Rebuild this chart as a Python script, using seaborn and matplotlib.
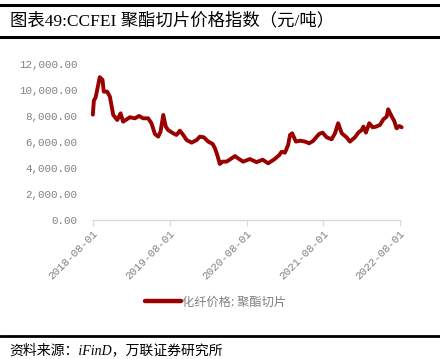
import matplotlib
matplotlib.use("Agg")
import matplotlib.pyplot as plt
from matplotlib.lines import Line2D
import seaborn as sns
import pandas as pd

sns.set_theme(style="white")
plt.rcParams['font.family'] = ['Liberation Serif', 'Noto Sans CJK SC', 'DejaVu Sans']

dates = ["2018-08-01", "2018-08-06", "2018-08-14", "2018-09-03", "2018-09-16", "2018-09-22",
         "2018-10-08", "2018-10-21", "2018-11-06", "2018-11-25", "2018-12-11", "2018-12-23",
         "2019-01-24", "2019-02-17", "2019-03-09", "2019-03-28", "2019-04-21", "2019-05-07",
         "2019-05-23", "2019-06-08", "2019-06-19", "2019-07-02", "2019-07-14", "2019-07-25",
         "2019-08-18", "2019-09-03", "2019-09-19", "2019-10-05", "2019-10-21", "2019-11-14",
         "2019-12-08", "2019-12-23", "2020-01-11", "2020-02-01", "2020-02-22", "2020-03-04",
         "2020-03-15", "2020-03-27", "2020-04-09", "2020-04-28", "2020-05-22", "2020-06-07",
         "2020-06-22", "2020-07-16", "2020-08-17", "2020-09-18", "2020-10-17", "2020-11-12",
         "2020-12-14", "2021-01-04", "2021-01-15", "2021-01-31", "2021-02-15", "2021-02-24",
         "2021-03-06", "2021-03-24", "2021-04-12", "2021-05-06", "2021-05-26", "2021-06-14",
         "2021-07-01", "2021-07-13", "2021-07-29", "2021-08-17", "2021-09-10", "2021-09-26",
         "2021-10-11", "2021-10-28", "2021-11-20", "2021-12-06", "2021-12-30", "2022-01-15",
         "2022-01-31", "2022-02-08", "2022-02-20", "2022-03-08", "2022-03-24", "2022-04-09",
         "2022-04-28", "2022-05-14", "2022-05-30", "2022-06-06", "2022-06-23", "2022-07-04",
         "2022-07-16", "2022-07-29", "2022-08-09"]
values = [8100, 9200, 9400, 10980, 10770, 9870,
          9870, 9490, 8080, 7690, 8200, 7560,
          7900, 7820, 8000, 7820, 7820, 7440,
          6620, 6410, 6790, 8080, 7180, 6920,
          6670, 6540, 6870, 6540, 6150, 5950,
          6150, 6410, 6360, 6030, 5850, 5510,
          5000, 4310, 4490, 4490, 4740, 4920,
          4740, 4490, 4690, 4450, 4640, 4360,
          4700, 5000, 5250, 5180, 5770, 6540,
          6670, 6030, 6100, 6030, 5900, 6080,
          6410, 6620, 6720, 6360, 6210, 6670,
          7440, 6670, 6360, 6030, 6360, 6720,
          6920, 7180, 6720, 7440, 7130, 7180,
          7310, 7740, 7950, 8510, 7950, 7640,
          7050, 7230, 7130]
series_name = "化纤价格: 聚酯切片"
x_ticks = ["2018-08-01", "2019-08-01", "2020-08-01", "2021-08-01", "2022-08-01"]
y_ticks = [0, 2000, 4000, 6000, 8000, 10000, 12000]
title = "图表49:CCFEI 聚酯切片价格指数（元/吨）"
source = "资料来源：iFinD，万联证券研究所"

df = pd.DataFrame({"date": pd.to_datetime(dates), "value": values})

fig = plt.figure(figsize=(4.4, 3.59), dpi=100)
ax = fig.add_axes([0.211, 0.387, 0.698, 0.435])
color = "#990000"
sns.lineplot(data=df, x="date", y="value", ax=ax, color=color, linewidth=2.8, clip_on=False, legend=False)

ax.set_xlim(pd.Timestamp(x_ticks[0]), pd.Timestamp(x_ticks[-1]))
ax.set_ylim(0, 12000)
ax.set_xticks(pd.to_datetime(x_ticks))
ax.set_xticklabels(x_ticks, rotation=45, ha="right", rotation_mode="anchor",
                   fontsize=7.8, color="#808080", family=["Liberation Mono"])
ax.set_yticks(y_ticks)
ax.set_yticklabels([f"{v:,.2f}" for v in y_ticks], fontsize=7.8, color="#808080",
                   family=["Liberation Mono"])
ax.set_xlabel("")
ax.set_ylabel("")
for s in ["top", "right", "left"]:
    ax.spines[s].set_visible(False)
ax.spines["bottom"].set_color("#d9d9d9")
ax.spines["bottom"].set_linewidth(1.0)
ax.tick_params(axis="x", which="major", bottom=True, length=4, width=0.8, color="#d9d9d9", pad=2)
ax.tick_params(axis="y", left=False, pad=5)
ax.grid(False)

handle = Line2D([0], [0], color=color, linewidth=3.2)
fig.legend([handle], [series_name], loc="center", bbox_to_anchor=(0.49, 0.159), frameon=False,
           handlelength=3.0, handletextpad=0.1,
           prop={"family": ["Noto Sans CJK SC"], "size": 8.8}, labelcolor="#808080")

# title and frame lines
fig.add_artist(Line2D([0, 1], [1 - 5 / 359, 1 - 5 / 359], color="black", linewidth=2.2))
fig.add_artist(Line2D([0, 1], [1 - 37 / 359, 1 - 37 / 359], color="black", linewidth=2.2))
fig.text(0.022, 1 - 21 / 359, title, fontsize=12.5, va="center", ha="left", color="black")
fig.add_artist(Line2D([0, 1], [1 - 336 / 359, 1 - 336 / 359], color="black", linewidth=2.0))
fig.text(0.022, 1 - 350 / 359, source, fontsize=10, va="center", ha="left", color="black",
         style="italic")

fig.savefig("out.png", dpi=100)
